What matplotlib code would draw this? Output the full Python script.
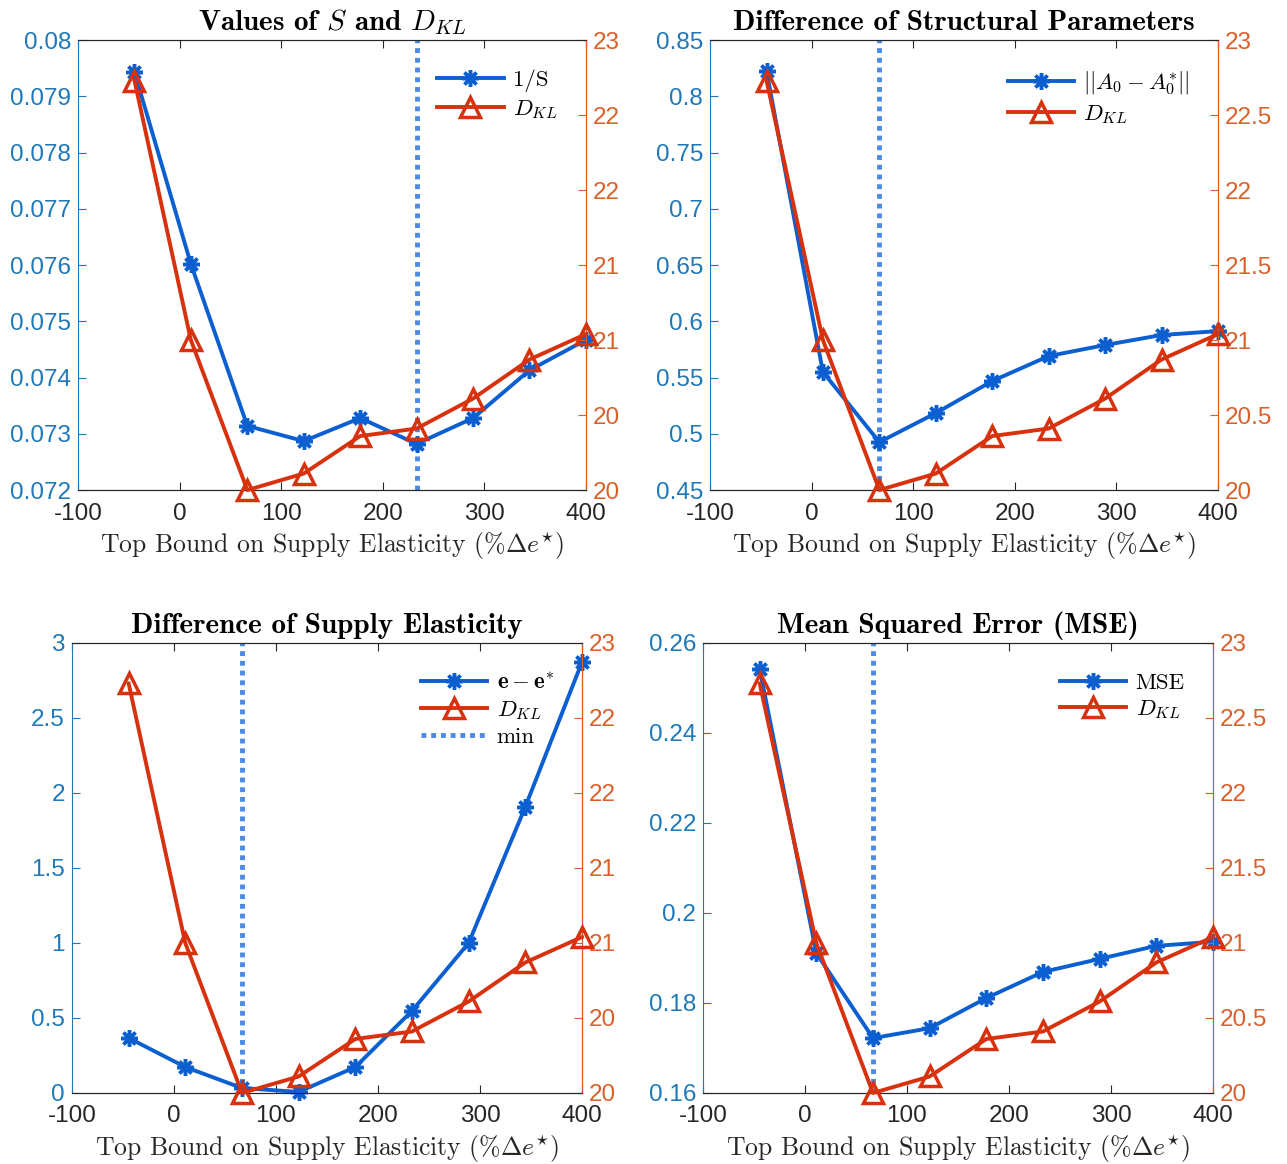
import matplotlib
matplotlib.use("Agg")
import matplotlib.pyplot as plt

plt.rcParams['mathtext.fontset'] = 'cm'
plt.rcParams['font.family'] = ['Liberation Sans', 'DejaVu Sans']
plt.rcParams['axes.unicode_minus'] = False

# x positions: top bound on supply elasticity (%)
bounds = [-44.4, 11.1, 66.7, 122.2, 177.8, 233.3, 288.9, 344.4, 400.0]

dkl = [22.73, 21.0, 20.0, 20.11, 20.36, 20.41, 20.61, 20.87, 21.04]

inv_s = [0.07943, 0.07602, 0.07314, 0.07287, 0.07328, 0.07282, 0.07328, 0.07413, 0.07467]
a0_diff = [0.8224, 0.5549, 0.4926, 0.5184, 0.5469, 0.5691, 0.5789, 0.5878, 0.5913]
e_diff = [0.367, 0.173, 0.033, 0.007, 0.173, 0.547, 1.0, 1.907, 2.873]
mse = [0.2542, 0.1911, 0.1722, 0.1744, 0.1811, 0.1869, 0.1898, 0.1927, 0.1936]

min_lines = [233.3, 66.7, 66.7, 66.7]

titles = [r"Values of $\mathit{S}$ and $D_{KL}$",
          "Difference of Structural Parameters",
          "Difference of Supply Elasticity",
          "Mean Squared Error (MSE)"]
blue_labels = ["1/S", r"$||A_0 - A_0^{*}||$", r"$\mathbf{e} - \mathbf{e}^{*}$", "MSE"]
left_ylims = [(0.072, 0.080), (0.45, 0.85), (0, 3), (0.16, 0.26)]
left_ticks = [
    [0.072, 0.073, 0.074, 0.075, 0.076, 0.077, 0.078, 0.079, 0.08],
    [0.45, 0.5, 0.55, 0.6, 0.65, 0.7, 0.75, 0.8, 0.85],
    [0, 0.5, 1, 1.5, 2, 2.5, 3],
    [0.16, 0.18, 0.2, 0.22, 0.24, 0.26],
]
left_ticklabels = [
    ["0.072", "0.073", "0.074", "0.075", "0.076", "0.077", "0.078", "0.079", "0.08"],
    ["0.45", "0.5", "0.55", "0.6", "0.65", "0.7", "0.75", "0.8", "0.85"],
    ["0", "0.5", "1", "1.5", "2", "2.5", "3"],
    ["0.16", "0.18", "0.2", "0.22", "0.24", "0.26"],
]
x_ticks = [-100, 0, 100, 200, 300, 400]
x_ticklabels = ["-100", "0", "100", "200", "300", "400"]
right_ticks = [20, 20.5, 21, 21.5, 22, 22.5, 23]
right_labels_a = ["20", "20", "21", "21", "22", "22", "23"]
right_labels_b = ["20", "20.5", "21", "21.5", "22", "22.5", "23"]
right_labels = [right_labels_a, right_labels_b, right_labels_a, right_labels_b]

blue_series = [inv_s, a0_diff, e_diff, mse]

positions = [
    [0.0606, 0.579, 0.3947, 0.3866],
    [0.5517, 0.579, 0.3947, 0.3866],
    [0.0559, 0.061, 0.3963, 0.3866],
    [0.5462, 0.061, 0.3963, 0.3866],
]

BLUE = "#0b5fd0"
RED = "#d8310e"
AX_BLUE = "#1f78b8"
AX_RED = "#d9602a"
DOT = "#4a8ae6"
serif = "cmr10"

fig = plt.figure(figsize=(12.87, 11.64), dpi=100)

for i in range(4):
    ax = fig.add_axes(positions[i])
    ax2 = ax.twinx()

    vl = ax.axvline(min_lines[i], color=DOT, linestyle=(0, (1, 1)), linewidth=3.5, label="min")
    lb, = ax.plot(bounds, blue_series[i], color=BLUE, linewidth=2.8,
                  marker=(8, 2, 0), markersize=12, markeredgewidth=2.5,
                  clip_on=False, label=blue_labels[i], zorder=3)
    lr, = ax2.plot(bounds, dkl, color=RED, linewidth=2.8, marker="^", markersize=15,
                   markerfacecolor="none", markeredgewidth=2.5, clip_on=False,
                   label=r"$D_{KL}$", zorder=3)

    ax.set_xlim(-100, 400)
    ax.set_xticks(x_ticks)
    ax.set_xticklabels(x_ticklabels)
    ax.set_ylim(*left_ylims[i])
    ax.set_yticks(left_ticks[i])
    ax.set_yticklabels(left_ticklabels[i])
    ax2.set_ylim(20, 23)
    ax2.set_yticks(right_ticks)
    ax2.set_yticklabels(right_labels[i])

    ax.tick_params(axis="x", direction="in", top=True, length=6, labelsize=17.5,
                   colors="#262626", pad=9)
    ax.tick_params(axis="y", direction="in", length=6, labelsize=17.5,
                   colors=AX_BLUE, pad=5)
    ax2.tick_params(axis="y", direction="in", length=6, labelsize=17.5,
                    colors=AX_RED, pad=5)
    ax.spines["left"].set_color(AX_BLUE)
    ax2.spines["left"].set_visible(False)
    ax2.spines["right"].set_color(AX_RED)
    for a in (ax, ax2):
        a.spines["top"].set_color("#262626")
        a.spines["bottom"].set_color("#262626")

    ax.set_title(titles[i], family="cmb10", fontsize=21, pad=7)
    ax.set_xlabel(r"Top Bound on Supply Elasticity ($\%\Delta e^{\star}$)",
                  family=serif, fontsize=18.5, color="#262626", labelpad=4)

    handles = [lb, lr]
    if i == 2:
        handles.append(vl)
    ax2.legend(handles=handles, loc="upper right", frameon=False,
               prop={"family": serif, "size": 16.5}, handlelength=2.9,
               handletextpad=0.4, labelspacing=0.25,
               bbox_to_anchor=(0.985, 0.98))

fig.savefig("out.png", dpi=100)
